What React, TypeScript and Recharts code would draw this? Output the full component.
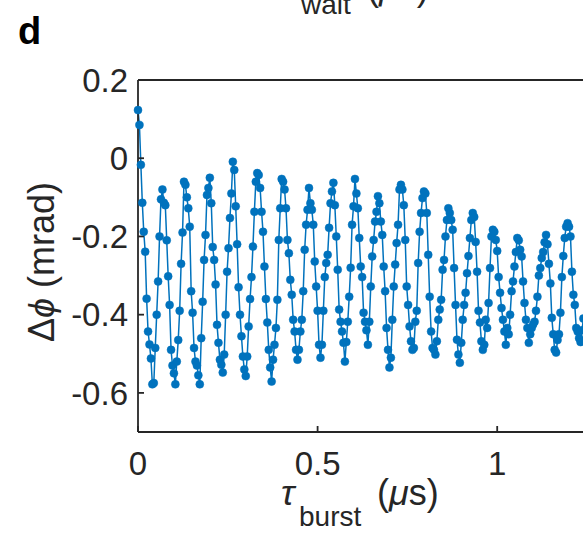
import { LineChart, Line, XAxis, YAxis } from "recharts"

// burst spacing of the scan, in μs
const tauStep = 0.004

// Δϕ (mrad), one value per burst length
const dPhi = [
  0.123, 0.085, -0.017, -0.114, -0.188, -0.239, -0.359, -0.443, -0.476, -0.512,
  -0.578, -0.575, -0.485, -0.4, -0.315, -0.2, -0.105, -0.08, -0.114, -0.12,
  -0.21, -0.302, -0.375, -0.49, -0.53, -0.55, -0.578, -0.52, -0.465, -0.39,
  -0.27, -0.19, -0.06, -0.068, -0.1, -0.128, -0.175, -0.34, -0.395, -0.485,
  -0.52, -0.53, -0.555, -0.578, -0.46, -0.367, -0.26, -0.196, -0.094, -0.076,
  -0.05, -0.115, -0.227, -0.26, -0.323, -0.426, -0.472, -0.515, -0.528, -0.548,
  -0.502, -0.4, -0.29, -0.23, -0.153, -0.09, -0.009, -0.03, -0.123, -0.22,
  -0.33, -0.4, -0.455, -0.507, -0.54, -0.557, -0.507, -0.43, -0.36, -0.304,
  -0.226, -0.137, -0.06, -0.038, -0.043, -0.076, -0.137, -0.188, -0.277, -0.36,
  -0.42, -0.49, -0.535, -0.571, -0.515, -0.477, -0.434, -0.362, -0.209, -0.128,
  -0.053, -0.06, -0.08, -0.128, -0.209, -0.243, -0.311, -0.349, -0.413, -0.443,
  -0.49, -0.515, -0.49, -0.443, -0.413, -0.34, -0.234, -0.17, -0.132, -0.076,
  -0.115, -0.132, -0.17, -0.264, -0.328, -0.39, -0.477, -0.51, -0.477, -0.39,
  -0.304, -0.268, -0.247, -0.178, -0.115, -0.085, -0.063, -0.12, -0.2, -0.285,
  -0.387, -0.418, -0.443, -0.472, -0.52, -0.47, -0.418, -0.354, -0.28, -0.17,
  -0.123, -0.053, -0.09, -0.128, -0.204, -0.277, -0.304, -0.395, -0.418, -0.44,
  -0.477, -0.418, -0.328, -0.251, -0.209, -0.162, -0.137, -0.097, -0.115, -0.162,
  -0.196, -0.277, -0.34, -0.434, -0.49, -0.535, -0.51, -0.413, -0.328, -0.272,
  -0.217, -0.17, -0.08, -0.068, -0.08, -0.12, -0.209, -0.328, -0.375, -0.43,
  -0.468, -0.49, -0.485, -0.418, -0.39, -0.268, -0.188, -0.14, -0.102, -0.085,
  -0.09, -0.14, -0.247, -0.354, -0.443, -0.485, -0.49, -0.502, -0.468, -0.413,
  -0.387, -0.362, -0.285, -0.26, -0.2, -0.158, -0.128, -0.14, -0.158, -0.183,
  -0.281, -0.375, -0.464, -0.502, -0.523, -0.472, -0.413, -0.375, -0.344, -0.294,
  -0.25, -0.204, -0.158, -0.14, -0.15, -0.214, -0.29, -0.39, -0.42, -0.468,
  -0.49, -0.477, -0.413, -0.434, -0.37, -0.281, -0.2, -0.183, -0.188, -0.209,
  -0.237, -0.304, -0.344, -0.383, -0.413, -0.443, -0.477, -0.434, -0.45, -0.4,
  -0.34, -0.315, -0.277, -0.24, -0.204, -0.21, -0.234, -0.251, -0.315, -0.37,
  -0.413, -0.434, -0.472, -0.45, -0.434, -0.425, -0.418, -0.39, -0.354, -0.3,
  -0.281, -0.255, -0.24, -0.215, -0.196, -0.22, -0.27, -0.32, -0.408, -0.45,
  -0.49, -0.497, -0.465, -0.45, -0.395, -0.304, -0.25, -0.204, -0.175, -0.166,
  -0.175, -0.2, -0.29, -0.349, -0.375, -0.434, -0.443, -0.46, -0.47, -0.44,
  -0.41,
]

const xTicks = [0, 0.5, 1]
const yTicks = [-0.6, -0.4, -0.2, 0, 0.2]

const data = dPhi.map((v, i) => ({ tau: +(i * tauStep).toFixed(3), dphi: v }))

const axisColor = "#262626"
const blue = "#0072BD"
const font = "'Liberation Sans', Arial, sans-serif"

export default function App() {
  return (
    <div
      style={{
        position: "fixed",
        left: 0,
        top: 0,
        width: 583,
        height: 541,
        overflow: "hidden",
        background: "#fff",
      }}
    >
      <LineChart width={600} height={541} data={data} margin={{ top: 79, right: 12, bottom: 0, left: 0 }}>
        <XAxis
          xAxisId="b"
          dataKey="tau"
          type="number"
          domain={[0, 1.25]}
          ticks={xTicks}
          height={109}
          tickSize={-6}
          tickMargin={26}
          stroke={axisColor}
          strokeWidth={1.8}
          tick={{ fontSize: 33, fill: axisColor, fontFamily: font }}
        />
        <XAxis
          xAxisId="t"
          orientation="top"
          dataKey="tau"
          type="number"
          domain={[0, 1.25]}
          ticks={xTicks}
          height={1}
          tick={false}
          tickSize={-6}
          stroke={axisColor}
          strokeWidth={1.8}
        />
        <YAxis
          yAxisId="l"
          type="number"
          domain={[-0.7, 0.2]}
          ticks={yTicks}
          width={138}
          tickSize={-6}
          tickMargin={16}
          stroke={axisColor}
          strokeWidth={1.8}
          tick={{ fontSize: 33, fill: axisColor, fontFamily: font }}
        />
        <YAxis
          yAxisId="r"
          orientation="right"
          type="number"
          domain={[-0.7, 0.2]}
          ticks={yTicks}
          width={1}
          tick={false}
          tickSize={-6}
          stroke={axisColor}
          strokeWidth={1.8}
        />
        <Line
          xAxisId="b"
          yAxisId="l"
          dataKey="dphi"
          type="linear"
          stroke={blue}
          strokeWidth={1.5}
          dot={{ r: 4, fill: blue, stroke: blue, strokeWidth: 0.5 }}
          isAnimationActive={false}
        />
      </LineChart>
      <svg
        width={583}
        height={541}
        style={{ position: "absolute", left: 0, top: 0, pointerEvents: "none" }}
        fontFamily={font}
        fill={axisColor}
      >
        <text x={18} y={44} fontSize={38} fontWeight="bold" fill="#000">d</text>
        <text x={301} y={14} fontSize={28}>wait</text>
        <text x={367} y={0} fontSize={36}>(<tspan fontStyle="italic">μ</tspan>s)</text>
        <text transform="translate(54,262) rotate(-90)" textAnchor="middle" fontSize={36}>
          Δ<tspan fontStyle="italic">ϕ</tspan> (mrad)
        </text>
        <text x={281} y={505} fontSize={36} fontStyle="italic">τ</text>
        <text x={299} y={526} fontSize={28}>burst</text>
        <text x={377} y={505} fontSize={36}>(<tspan fontStyle="italic">μ</tspan>s)</text>
      </svg>
    </div>
  )
}
